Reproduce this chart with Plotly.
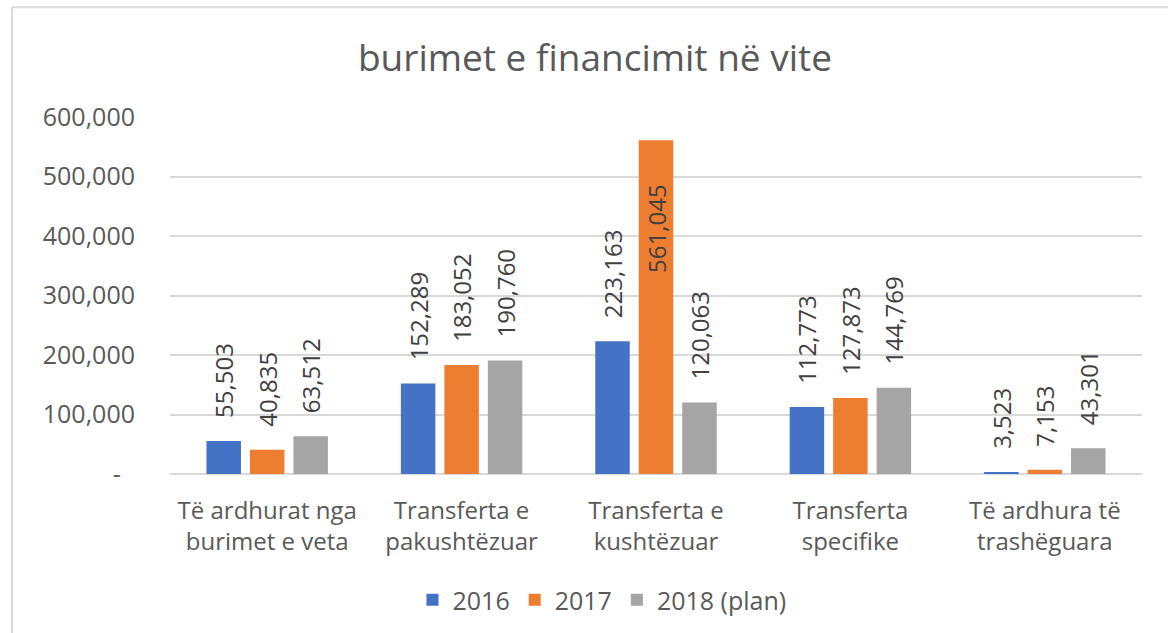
import plotly.graph_objects as go

categories = ["Të ardhurat nga<br>burimet e veta", "Transferta e<br>pakushtëzuar",
              "Transferta e<br>kushtëzuar", "Transferta<br>specifike", "Të ardhura të<br>trashëguara"]
series_names = ["2016", "2017", "2018 (plan)"]
v2016 = [55503, 152289, 223163, 112773, 3523]
v2017 = [40835, 183052, 561045, 127873, 7153]
v2018 = [63512, 190760, 120063, 144769, 43301]
colors = ["#4472C4", "#ED7D31", "#A5A5A5"]
tick_vals = [0, 100000, 200000, 300000, 400000, 500000, 600000]
tick_text = ["-\u2007", "100,000", "200,000", "300,000", "400,000", "500,000", "600,000"]

FONT = "Open Sans"
FS = 24
W, H = 1168, 633
L, R, T, B = 170, 26, 117, 158
pw, ph = W - L - R, H - T - B
LABEL_COLOR = "#404040"

fig = go.Figure()
for name, vals, col in zip(series_names, [v2016, v2017, v2018], colors):
    inside = [v > 500000 for v in vals]
    pos = ["inside" if f else "outside" for f in inside]
    tmpl = ["%{y:,}\u2007\u2007\u2007" if f else "\u2007\u2008%{y:,}" for f in inside]
    fig.add_trace(go.Bar(
        name=name, x=categories, y=vals, marker=dict(color=col, line=dict(width=0)),
        texttemplate=tmpl, textposition=pos, textangle=-90,
        insidetextanchor="end", constraintext="none",
        textfont=dict(family=FONT, size=FS, color=LABEL_COLOR),
        outsidetextfont=dict(family=FONT, size=FS, color=LABEL_COLOR),
        insidetextfont=dict(family=FONT, size=FS, color=LABEL_COLOR),
        cliponaxis=False,
    ))

fig.update_layout(
    width=W, height=H,
    margin=dict(l=L, r=R, t=T, b=B),
    paper_bgcolor="white", plot_bgcolor="white",
    barmode="group", bargap=0.329, bargroupgap=0.207,
    title=dict(text="burimet e financimit në vite", x=595 / W, xanchor="center",
               y=1 - 58 / H, yanchor="middle",
               font=dict(family=FONT, size=37, color="#595959")),
    legend=dict(orientation="h", x=(602 - L) / pw, xanchor="center", y=-(600 - (T + ph)) / ph,
                yanchor="middle", font=dict(family=FONT, size=25, color="#595959"),
                traceorder="normal"),
    showlegend=True,
)
fig.update_xaxes(showgrid=False, showline=False, ticks="outside", ticklen=15,
                 tickcolor="rgba(0,0,0,0)",
                 tickfont=dict(family=FONT, size=FS, color="#595959"))
fig.update_yaxes(range=[0, 600000], tickvals=tick_vals, ticktext=tick_text,
                 showgrid=True, gridcolor="#D9D9D9", gridwidth=1.5,
                 zeroline=True, zerolinecolor="#D9D9D9", zerolinewidth=1.5,
                 showline=False, ticks="outside", ticklen=29, tickcolor="rgba(0,0,0,0)",
                 tickfont=dict(family=FONT, size=25, color="#595959"))

# chart border (Excel chart area)
fig.add_shape(type="line", xref="paper", yref="paper",
              x0=(12 - L) / pw, x1=(12 - L) / pw, y0=-(H - T - ph) / ph - 0.1, y1=1 + (T - 7) / ph,
              line=dict(color="#D9D9D9", width=2))
fig.add_shape(type="line", xref="paper", yref="paper",
              x0=(12 - L) / pw, x1=1 + R / pw + 0.1, y0=1 + (T - 7) / ph, y1=1 + (T - 7) / ph,
              line=dict(color="#D9D9D9", width=2))

fig.write_html("out.html", config={"displayModeBar": False},
               post_script="document.body.style.margin='0';")
